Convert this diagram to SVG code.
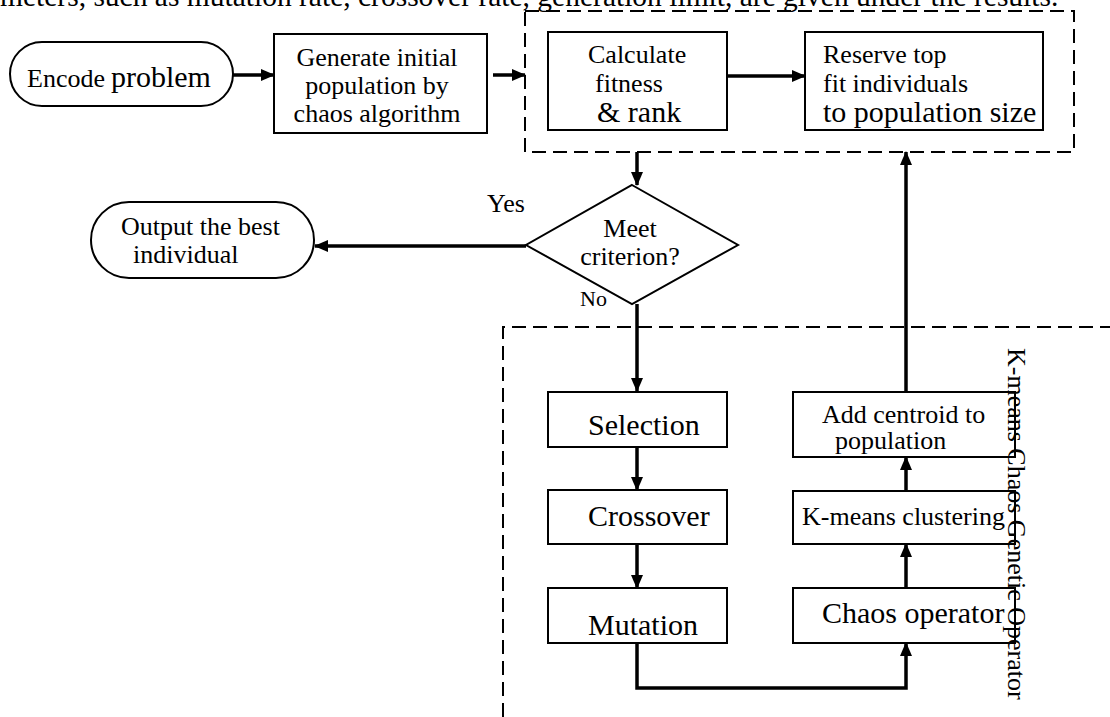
<svg xmlns="http://www.w3.org/2000/svg" width="1110" height="717" viewBox="0 0 1110 717">
<defs>
<marker id="ah" viewBox="0 0 14 12" refX="13" refY="6" markerWidth="14" markerHeight="12" markerUnits="userSpaceOnUse" orient="auto">
<path d="M0,0 L14,6 L0,12 Z" fill="#000"/>
</marker>
<style>
text{font-family:"Liberation Serif","Times New Roman",serif;fill:#000;font-size:26px}
.big{font-size:30px}
.box{fill:#fff;stroke:#000;stroke-width:2}
.dash{fill:none;stroke:#000;stroke-width:2;stroke-dasharray:14 7}
.con{fill:none;stroke:#000;stroke-width:3.5;marker-end:url(#ah)}
.mid{text-anchor:middle}
</style>
</defs>
<rect width="1110" height="717" fill="#fff"/>
<text x="0" y="6" style="font-size:29.5px">meters, such as mutation rate, crossover rate, generation limit, are given under the results.</text>

<g id="groups">
<rect class="dash" x="525" y="11" width="549" height="141"/>
<path class="dash" d="M503,717 V327 H1110"/>
</g>

<g id="connectors">
<line class="con" x1="233" y1="75" x2="274" y2="75"/>
<line class="con" x1="493" y1="75" x2="525" y2="75"/>
<line class="con" x1="727" y1="76" x2="805" y2="76"/>
<line class="con" x1="637" y1="152" x2="637" y2="185"/>
<line class="con" x1="526" y1="246" x2="315" y2="246"/>
<line class="con" x1="637" y1="304" x2="637" y2="391"/>
<line class="con" x1="637" y1="447" x2="637" y2="490"/>
<line class="con" x1="637" y1="544" x2="637" y2="588"/>
<path class="con" d="M637,643 V688 H906 V643"/>
<line class="con" x1="906" y1="588" x2="906" y2="544"/>
<line class="con" x1="906" y1="491" x2="906" y2="457"/>
<line class="con" x1="906" y1="392" x2="906" y2="152"/>
</g>

<g id="encode">
<rect class="box" x="10" y="42" width="223" height="64" rx="32" ry="32"/>
<text x="27" y="87">Encode<tspan class="big" dx="6">problem</tspan></text>
</g>

<g id="generate">
<rect class="box" x="274" y="34" width="213" height="99"/>
<text class="mid" x="377" y="66">Generate initial</text>
<text class="mid" x="377" y="94">population by</text>
<text class="mid" x="377" y="122">chaos algorithm</text>
</g>

<g id="calculate">
<rect class="box" x="548" y="32" width="179" height="98"/>
<text x="588" y="63">Calculate</text>
<text x="595" y="92">fitness</text>
<text class="big" x="597" y="122">&amp; rank</text>
</g>

<g id="reserve">
<rect class="box" x="805" y="32" width="238" height="98"/>
<text x="823" y="63">Reserve top</text>
<text x="823" y="92">fit individuals</text>
<text class="big" x="823" y="122">to population size</text>
</g>

<g id="criterion">
<polygon class="box" points="632,185 738,245 632,304 526,245"/>
<text class="mid" x="630" y="237">Meet</text>
<text class="mid" x="630" y="265">criterion?</text>
<text x="487" y="212">Yes</text>
<text x="580" y="306" style="font-size:22px">No</text>
</g>

<g id="output">
<rect class="box" x="91" y="202" width="223" height="76" rx="38" ry="38"/>
<text x="121" y="235">Output the best</text>
<text x="133" y="263">individual</text>
</g>

<g id="selection">
<rect class="box" x="548" y="392" width="179" height="55"/>
<text class="big" x="588" y="435">Selection</text>
</g>

<g id="crossover">
<rect class="box" x="548" y="490" width="179" height="54"/>
<text class="big" x="588" y="526">Crossover</text>
</g>

<g id="mutation">
<rect class="box" x="548" y="588" width="179" height="55"/>
<text class="big" x="588" y="635">Mutation</text>
</g>

<g id="chaos">
<rect class="box" x="793" y="588" width="222" height="55"/>
<text class="big" x="822" y="623">Chaos operator</text>
</g>

<g id="kmeans">
<rect class="box" x="793" y="491" width="222" height="53"/>
<text x="802" y="525">K-means clustering</text>
</g>

<g id="addcentroid">
<rect class="box" x="793" y="392" width="222" height="65"/>
<text x="822" y="423">Add centroid to</text>
<text x="835" y="449">population</text>
</g>

<g id="label">
<text transform="translate(1008,348) rotate(90)">K-means Chaos Genetic Operator</text>
</g>
</svg>
